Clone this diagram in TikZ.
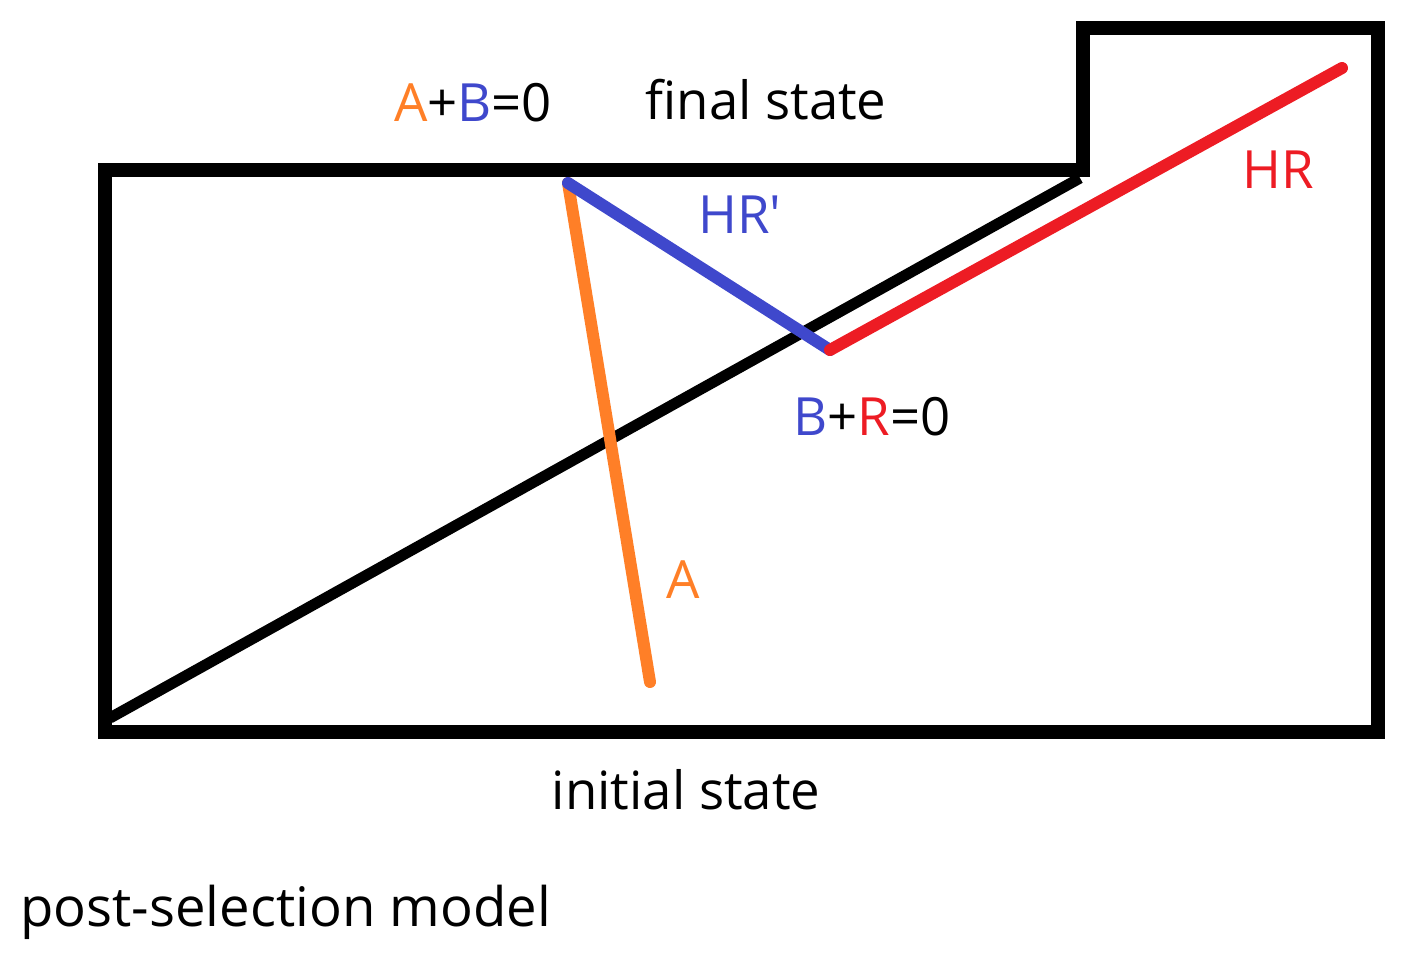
\documentclass[tikz,border=0pt]{standalone}
\usepackage{fontspec}
\setmainfont{Open Sans}
\newfontfamily\rawsans{Open Sans}
\definecolor{org}{RGB}{255,127,39}
\definecolor{blu}{RGB}{63,72,204}
\definecolor{rd}{RGB}{237,28,36}
\begin{document}
\begin{tikzpicture}[x=0.02cm,y=-0.02cm,
  lbl/.style={font=\fontsize{30}{34}\selectfont,inner sep=0pt},
  path line/.style={line width=0.24cm,line cap=round}]
\useasboundingbox (0,0) rectangle (1415,964);
\draw[line width=0.28cm,line join=miter] (105,170) -- (1083,170) -- (1083,28) -- (1378,28) -- (1378,732) -- (105,732) -- cycle;
\coordinate (bl) at (110,718);
\coordinate (tr) at (1080,178);
\draw[line width=0.22cm] (bl) -- (tr);
\coordinate (top) at (568,183);
\coordinate (aend) at (650,682);
\coordinate (br) at (830,350);
\coordinate (hr) at (1342,68);
\draw[path line,org] (top) -- (aend);
\draw[path line,blu] (top) -- (br);
\draw[path line,rd] (br) -- (hr);
\node[lbl] (ab) at (473,103) {\textcolor{org}{A}+\textcolor{blu}{B}=0};
\node[lbl] (fs) at (766,100) {final state};
\node[lbl,text=blu] (hrp) at (740,215) {\rawsans HR'};
\node[lbl,text=rd] (hrl) at (1278,170) {HR};
\node[lbl] (brl) at (872,417) {\textcolor{blu}{B}+\textcolor{rd}{R}=0};
\node[lbl,text=org] (al) at (683,580) {A};
\node[lbl] (is) at (686,790) {initial state};
\node[lbl,anchor=west] (ps) at (20,912) {\fontsize{31}{34}\selectfont post-selection model};
\end{tikzpicture}
\end{document}
